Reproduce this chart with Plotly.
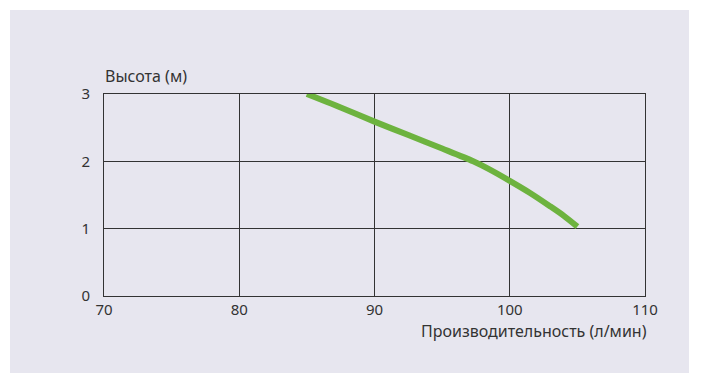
import plotly.graph_objects as go

# Data
flow = [85, 87.5, 90, 92.5, 95, 97.3, 98.5, 100, 101.5, 103, 104, 105]
head = [3.0, 2.8, 2.59, 2.39, 2.19, 2.0, 1.88, 1.71, 1.53, 1.33, 1.19, 1.03]

x_ticks = [70, 80, 90, 100, 110]
y_ticks = [0, 1, 2, 3]
x_title = "Производительность (л/мин)"
y_title = "Высота (м)"

W, H = 701, 383
L, R, T, B = 104, 56, 94, 87
pw, ph = W - L - R, H - T - B

panel = "#e7e6ef"
grid = "#333333"
txt = "#333333"
font_family = "Noto Sans"

fig = go.Figure()
fig.add_trace(go.Scatter(
    x=flow, y=head, mode="lines",
    line=dict(color="#6db33f", width=6, shape="spline", smoothing=0.8),
    hoverinfo="skip", showlegend=False,
))

# panel background
fig.add_shape(type="rect", xref="paper", yref="paper", layer="below",
              x0=(10 - L) / pw, x1=(689 - L) / pw,
              y0=(T + ph - 373) / ph, y1=(T + ph - 10) / ph,
              fillcolor=panel, line=dict(width=0))

fig.add_annotation(text=y_title, xref="paper", yref="paper",
                   x=(103 - L) / pw, y=(T + ph - 76) / ph,
                   xanchor="left", yanchor="middle", showarrow=False,
                   font=dict(family=font_family, size=16, color=txt))
fig.add_annotation(text=x_title, xref="paper", yref="paper",
                   x=(649 - L) / pw, y=(T + ph - 331) / ph,
                   xanchor="right", yanchor="middle", showarrow=False,
                   font=dict(family=font_family, size=16, color=txt))

fig.update_xaxes(range=[70, 110], tickvals=x_ticks, showgrid=True,
                 gridcolor=grid, gridwidth=1, showline=True, linecolor=grid,
                 linewidth=1, mirror=True, zeroline=False, ticks="",
                 tickfont=dict(family=font_family, size=15, color=txt))
fig.update_yaxes(range=[0, 3], tickvals=y_ticks, showgrid=True,
                 gridcolor=grid, gridwidth=1, showline=True, linecolor=grid,
                 linewidth=1, mirror=True, zeroline=False, ticks="",
                 ticklabelstandoff=10,
                 tickfont=dict(family=font_family, size=15, color=txt))

fig.update_layout(width=W, height=H, margin=dict(l=L, r=R, t=T, b=B),
                  paper_bgcolor="white", plot_bgcolor="rgba(0,0,0,0)")

fig.write_html("out.html")
